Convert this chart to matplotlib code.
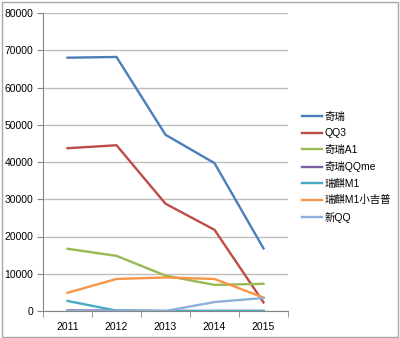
import numpy as np
import matplotlib.pyplot as plt
from matplotlib.patches import Rectangle

plt.rcParams['font.family'] = ['Liberation Sans', 'Noto Sans CJK SC', 'DejaVu Sans']

years = ['2011', '2012', '2013', '2014', '2015']
nombres = ['奇瑞', 'QQ3', '奇瑞A1', '奇瑞QQme', '瑞麒M1', '瑞麒M1小吉普', '新QQ']
qirui = [68000, 68200, 47300, 39700, 16800]
qq3 = [43700, 44500, 28800, 21800, 2300]
qirui_a1 = [16700, 14800, 9500, 7000, 7300]
qirui_qqme = [150, 100, 0, 0, 0]
ruiqi_m1 = [2700, 100, 0, 0, 0]
ruiqi_m1_jeep = [4900, 8600, 9000, 8600, 3600]
xin_qq = [0, 0, 0, 2400, 3500]
series = [qirui, qq3, qirui_a1, qirui_qqme, ruiqi_m1, ruiqi_m1_jeep, xin_qq]
colores = ['#4A7EBB', '#BE4B48', '#98B954', '#7D60A0', '#46AAC5', '#F79646', '#8FB0DC']

fig = plt.figure(figsize=(4, 3.38), dpi=100)
ax = fig.add_axes([43 / 400, 27 / 338, 245 / 400, 298 / 338])

x = np.arange(len(years))
for datos, nombre, c in zip(series, nombres, colores):
    ax.plot(x, datos, color=c, lw=1.7, label=nombre)

ax.set_xlim(-0.5, 4.5)
ax.set_ylim(0, 80000)
ax.set_yticks(np.arange(0, 80001, 10000))
ax.set_yticklabels([str(v) for v in range(0, 80001, 10000)], fontsize=7.5)
ax.set_xticks(x)
ax.set_xticklabels(years, fontsize=7.5)
ax.set_xticks(np.arange(-0.5, 5, 1), minor=True)
ax.tick_params(axis='x', which='major', length=0, pad=8)
ax.tick_params(axis='x', which='minor', length=4, color='#868686')
ax.tick_params(axis='y', length=4, color='#868686', pad=3)
ax.grid(axis='y', color='#BEBEBE', lw=1)
ax.set_axisbelow(True)
for s in ['top', 'right']:
    ax.spines[s].set_visible(False)
ax.spines['left'].set_color('#868686')
ax.spines['bottom'].set_color('#868686')

leg = ax.legend(loc='upper left', bbox_to_anchor=(1.02, 0.7), frameon=False,
                handlelength=1.9, handletextpad=0.2, labelspacing=0.62,
                prop={'family': ['Liberation Sans', 'Noto Sans CJK SC'], 'size': 7.5})

fig.patches.append(Rectangle((0.006, 0.004), 0.988, 0.99, transform=fig.transFigure,
                             fill=False, edgecolor='#A6A6A6', lw=1))

fig.savefig('out.png', dpi=100)
